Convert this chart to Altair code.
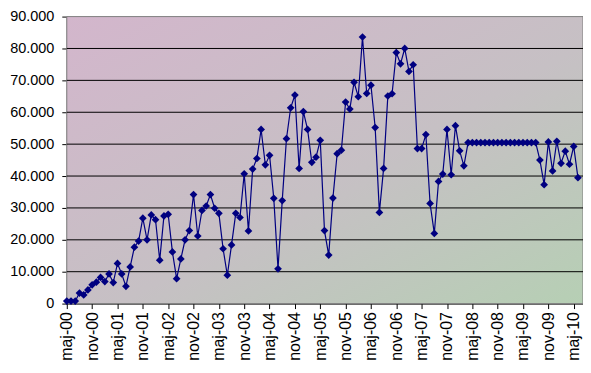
import altair as alt
import pandas as pd

# monthly values, maj-00 .. jun-10
values = [
    800, 800, 800, 3300, 2700, 4300, 5900, 6700, 8200, 6900,
    9300, 6600, 12600, 9300, 5400, 11500, 17700, 19600, 26800, 20000,
    27800, 26300, 13600, 27500, 28000, 16200, 7800, 14000, 20000, 22900,
    34200, 21200, 29200, 30600, 34200, 29900, 28300, 17200, 8900, 18400,
    28300, 27000, 40700, 22800, 42200, 45500, 54600, 43500, 46500, 33000,
    10900, 32300, 51700, 61400, 65400, 42400, 60200, 54600, 44300, 45900,
    51200, 22900, 15200, 33100, 47000, 48100, 63200, 61000, 69400, 64900,
    83600, 65900, 68500, 55200, 28600, 42400, 65100, 65800, 78700, 75200,
    80000, 72800, 74900, 48600, 48600, 53000, 31400, 22000, 38300, 40600,
    54600, 40400, 55800, 47900, 43200,
    50500, 50500, 50500, 50500, 50500, 50500, 50500, 50500, 50500, 50500,
    50500, 50500, 50500, 50500, 50500, 50500, 50500,
    45000, 37300, 50700, 41600, 50900, 44000, 47800, 43700, 49300, 39500,
]

tick_labels = [
    "maj-00", "nov-00", "maj-01", "nov-01", "maj-02", "nov-02", "maj-03",
    "nov-03", "maj-04", "nov-04", "maj-05", "nov-05", "maj-06", "nov-06",
    "maj-07", "nov-07", "maj-08", "nov-08", "maj-09", "nov-09", "maj-10",
]
label_step = 6
y_ticks = [0, 10000, 20000, 30000, 40000, 50000, 60000, 70000, 80000, 90000]

W, H = 518, 288
FONT = "Liberation Sans"

df = pd.DataFrame({"i": list(range(len(values))), "v": values})
tick_pos = [k * label_step for k in range(len(tick_labels))]
label_expr = "[" + ",".join("'%s'" % s for s in tick_labels) + "][round(datum.value/%d)]" % label_step

xscale = alt.Scale(domain=[0, 122.2], nice=False, zero=False)
yscale = alt.Scale(domain=[y_ticks[0], y_ticks[-1]], nice=False)

x_axis = alt.Axis(values=tick_pos, labelExpr=label_expr, labelAngle=270,
                  labelAlign="right", labelBaseline="middle", labelFontSize=16,
                  tickSize=5, labelPadding=3, grid=False)
y_axis = alt.Axis(values=y_ticks,
                  labelExpr="replace(format(datum.value, ','), ',', '.')",
                  labelFontSize=14.5, tickSize=5, labelPadding=8, grid=False)

grad = alt.LinearGradient(
    gradient="linear",
    stops=[
        alt.GradientStop(color="#d3b6cc", offset=0),
        alt.GradientStop(color="#c6c0c4", offset=0.55),
        alt.GradientStop(color="#b6cfb4", offset=1),
    ],
    x1=0, y1=0, x2=1, y2=1,
)

bg = alt.Chart(alt.Data(values=[{}])).mark_rect(
    fill=grad, stroke="#808080", strokeWidth=1
).encode(
    x=alt.value(0), x2=alt.value(W), y=alt.value(0), y2=alt.value(H)
)

grid_df = pd.DataFrame({"t": [t for t in y_ticks if y_ticks[0] < t < y_ticks[-1]]})
grid = alt.Chart(grid_df).mark_rule(color="black", strokeWidth=1).encode(
    y=alt.Y("t:Q", scale=yscale, title=None, axis=y_axis)
)

line = alt.Chart(df).mark_line(
    color="#000080", strokeWidth=1.2,
    point=alt.OverlayMarkDef(shape="diamond", size=60, filled=True, color="#000080", opacity=1),
).encode(
    x=alt.X("i:Q", scale=xscale, title=None, axis=x_axis),
    y=alt.Y("v:Q", scale=yscale, title=None, axis=y_axis),
)

chart = alt.layer(bg, grid, line).properties(
    width=W, height=H,
    autosize=alt.AutoSizeParams(type="none"),
    padding={"left": 59, "top": 8, "right": 0, "bottom": 60},
    background="white",
).configure_view(stroke=None).configure_axis(
    labelFont=FONT, labelColor="black",
    domainColor="black", tickColor="black", domainWidth=1, tickWidth=1,
    labelOverlap=False, labelBound=False, labelFlush=False,
)

chart.save("out.html", embed_options={"renderer": "svg", "actions": False})
